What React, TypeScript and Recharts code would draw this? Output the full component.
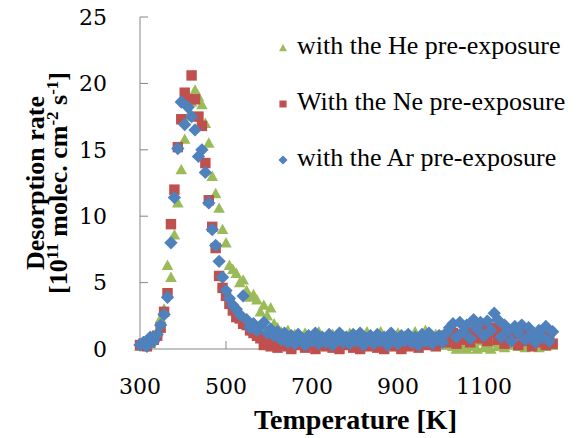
import { ScatterChart, Scatter, XAxis, YAxis, Legend, Label } from "recharts";

const FONT = "Liberation Serif";
const TICK_FONT = "DejaVu Serif";

// temperature of each sample [K], shared by all three runs
const temperatures = [
  300, 308, 316, 324, 332, 340, 348, 356, 364, 372, 380, 388, 396, 404, 412, 420, 428, 436, 444, 452,
  460, 468, 476, 484, 492, 500, 508, 516, 524, 532, 540, 548, 556, 564, 572, 580, 588, 596, 604, 612,
  620, 628, 636, 644, 652, 660, 668, 676, 684, 692, 700, 708, 716, 724, 732, 740, 748, 756, 764, 772,
  780, 788, 796, 804, 812, 820, 828, 836, 844, 852, 860, 868, 876, 884, 892, 900, 908, 916, 924, 932,
  940, 948, 956, 964, 972, 980, 988, 996, 1004, 1012, 1020, 1028, 1036, 1044, 1052, 1060, 1068, 1076, 1084, 1092,
  1100, 1108, 1116, 1124, 1132, 1140, 1148, 1156, 1164, 1172, 1180, 1188, 1196, 1204, 1212, 1220, 1228, 1236, 1244, 1252,
  1260,
];

const heRate = [
  0.2, 0.3, 0.5, 0.4, 0.8, 1.3, 2.3, 3.0, 6.3, 5.4, 8.6, 11.0, 13.5, 15.8, 17.5, 18.6, 19.5, 19.0, 18.4, 17.0,
  15.5, 13.0, 11.7, 10.6, 9.0, 8.0, 6.3, 6.0, 5.7, 5.0, 5.2, 4.4, 3.9, 4.1, 3.7, 2.8, 3.3, 2.5, 3.1, 1.9,
  1.6, 1.3, 1.0, 1.4, 0.8, 1.1, 0.5, 0.9, 1.2, 0.6, 0.4, 1.0, 1.3, 0.5, 0.8, 0.3, 1.1, 0.7, 0.4, 1.0,
  0.6, 1.2, 0.5, 0.3, 1.0, 0.6, 1.3, 0.8, 0.4, 0.9, 1.3, 0.5, 1.0, 0.3, 0.8, 1.2, 0.5, 1.0, 0.4, 0.9,
  1.3, 0.6, 1.0, 1.4, 0.7, 0.4, 1.1, 0.5, 0.9, 0.3, 0.6, 0.2, 0.0, 0.4, 0.1, 0.0, 0.5, 0.2, 0.0, 0.6,
  0.1, 0.4, 0.0, 0.5, 0.2, 0.7, 0.1, 0.9, 0.3, 0.6, 0.2, 0.8, 0.1, 0.5, 0.2, 0.7, 0.1, 0.5, 0.2, 0.6,
  0.3,
];

const neRate = [
  0.3, 0.4, 0.2, 0.5, 0.7, 1.0, 1.6, 2.8, 4.2, 9.4, 12.0, 15.2, 17.3, 19.3, 18.8, 20.6, 18.8, 17.5, 16.8, 14.0,
  11.2, 9.2, 7.6, 5.5, 4.6, 4.0, 3.4, 2.9, 2.4, 2.3, 1.9, 1.8, 1.4, 1.2, 1.0, 0.8, 0.3, 0.9, 0.2, 0.7,
  0.1, 0.4, 0.6, 0.2, 0.0, 0.5, 0.3, 0.7, 0.1, 0.4, 0.6, 0.0, 0.3, 0.5, 0.2, 0.6, 0.1, 0.4, 0.0, 0.5,
  0.3, 0.6, 0.1, 0.4, 0.0, 0.5, 0.2, 0.7, 0.3, 0.1, 0.5, 0.0, 0.4, 0.6, 0.2, 0.3, 0.0, 0.5, 0.2, 0.4,
  0.6, 0.1, 0.4, 0.7, 0.3, 0.8, 0.2, 0.6, 1.0, 0.5, 0.9, 1.2, 0.4, 1.1, 0.7, 1.3, 0.5, 0.9, 1.4, 0.8,
  1.5, 0.6, 1.2, 1.6, 0.7, 1.3, 0.4, 1.4, 0.8, 1.1, 0.3, 1.2, 0.6, 1.0, 0.2, 0.9, 0.5, 1.1, 0.3, 0.8,
  0.4,
];

const arRate = [
  0.3, 0.5, 0.2, 0.9, 0.6, 1.1, 1.8, 2.6, 3.9, 8.0, 11.4, 15.1, 18.6, 16.9, 18.2, 17.5, 16.5, 14.5, 15.0, 13.3,
  11.0, 9.0, 7.8, 6.6, 5.4, 4.4, 3.8, 3.3, 3.0, 2.6, 4.0, 2.2, 1.6, 1.9, 1.4, 1.7, 2.0, 1.2, 1.5, 1.0,
  1.3, 0.7, 1.2, 0.5, 1.0, 0.4, 1.1, 0.8, 0.3, 1.0, 0.6, 1.2, 0.4, 0.9, 0.5, 1.1, 0.3, 0.8, 1.2, 0.5,
  0.9, 0.4, 1.1, 0.6, 1.2, 0.3, 0.8, 1.0, 0.4, 1.1, 0.6, 0.9, 0.3, 1.2, 0.7, 0.4, 1.0, 0.6, 1.1, 0.5,
  0.9, 0.3, 1.1, 0.6, 1.2, 0.4, 0.8, 1.0, 0.5, 1.2, 1.6, 1.9, 0.9, 2.0, 1.3, 1.8, 0.8, 2.2, 1.5, 2.0,
  1.0, 2.1, 1.4, 2.7, 2.2, 0.9, 1.8, 1.4, 0.6, 1.7, 1.2, 1.8, 0.7, 1.6, 1.1, 0.5, 1.4, 0.9, 1.7, 0.6,
  1.3,
];

const xTicks = [300, 500, 700, 900, 1100];
const yTicks = [0, 5, 10, 15, 20, 25];

type Marker = "triangle" | "square" | "diamond";

const series: { name: string; color: string; marker: Marker; values: number[] }[] = [
  { name: "with the He pre-exposure", color: "#9BBB59", marker: "triangle", values: heRate },
  { name: "With the Ne pre-exposure", color: "#C0504D", marker: "square", values: neRate },
  { name: "with the Ar pre-exposure", color: "#4F81BD", marker: "diamond", values: arRate },
];

function markerPath(kind: Marker, cx: number, cy: number, r: number) {
  if (kind === "triangle") return `M${cx},${cy - r}L${cx + r},${cy + r * 0.8}L${cx - r},${cy + r * 0.8}Z`;
  if (kind === "square") return `M${cx - r * 0.9},${cy - r * 0.9}h${r * 1.8}v${r * 1.8}h${-r * 1.8}Z`;
  return `M${cx},${cy - r * 1.15}L${cx + r * 1.15},${cy}L${cx},${cy + r * 1.15}L${cx - r * 1.15},${cy}Z`;
}

function makeShape(kind: Marker, color: string) {
  return (props: any) => <path d={markerPath(kind, props.cx, props.cy, 5.8)} fill={color} />;
}

function LegendBox() {
  return (
    <div style={{ fontFamily: FONT, fontSize: 26, color: "#000" }}>
      {series.map((s) => (
        <div key={s.name} style={{ height: 56, display: "flex", alignItems: "center", whiteSpace: "nowrap" }}>
          <svg width={14} height={14}>
            <path d={markerPath(s.marker, 7, 7, 4)} fill={s.color} />
          </svg>
          <span style={{ marginLeft: 7, position: "relative", top: -2 }}>{s.name}</span>
        </div>
      ))}
    </div>
  );
}

function XTitle(props: any) {
  const vb = props.viewBox;
  return (
    <text x={vb.x + vb.width / 2 + 7} y={vb.y + 80} textAnchor="middle" fontFamily={FONT} fontSize={28} fontWeight="bold" fill="#000">
      Temperature [K]
    </text>
  );
}

function YTitle(props: any) {
  const vb = props.viewBox;
  const c = -(vb.y + vb.height / 2);
  return (
    <text transform="rotate(-90)" textAnchor="middle" fontFamily={FONT} fontSize={26} fontWeight="bold" fill="#000">
      <tspan x={c} y={44}>Desorption rate</tspan>
      <tspan x={c} y={67}>[10</tspan>
      <tspan dy={-9} fontSize={17}>11</tspan>
      <tspan dy={9}> molec. cm</tspan>
      <tspan dy={-9} fontSize={17}>-2</tspan>
      <tspan dy={9}> s</tspan>
      <tspan dy={-9} fontSize={17}>-1</tspan>
      <tspan dy={9}>]</tspan>
    </text>
  );
}

export default function App() {
  const tick = { fill: "#000", fontSize: 22, fontFamily: TICK_FONT };
  const grey = { stroke: "#868686" };
  return (
    <div style={{ position: "absolute", left: 0, top: 0, width: 583, height: 438, background: "#fff" }}>
      <ScatterChart width={583} height={438} margin={{ top: 17, right: 26, bottom: 29, left: 0 }}>
        <XAxis
          type="number"
          dataKey="t"
          domain={[300, 1270]}
          ticks={xTicks}
          height={60}
          axisLine={grey}
          tickLine={grey}
          tickSize={-8}
          tickMargin={37}
          tick={tick}
        >
          <Label content={XTitle} />
        </XAxis>
        <YAxis
          type="number"
          dataKey="v"
          domain={[0, 25]}
          ticks={yTicks}
          width={140}
          axisLine={grey}
          tickLine={grey}
          tickSize={-8}
          tickMargin={41}
          tick={tick}
        >
          <Label content={YTitle} />
        </YAxis>
        <Legend
          layout="vertical"
          align="center"
          verticalAlign="middle"
          content={<LegendBox />}
          wrapperStyle={{ left: 276, top: 20, width: 307, height: 170 }}
        />
        {series.map((s) => (
          <Scatter
            key={s.name}
            name={s.name}
            data={temperatures.map((t, i) => ({ t, v: s.values[i] }))}
            fill={s.color}
            shape={makeShape(s.marker, s.color)}
            isAnimationActive={false}
          />
        ))}
      </ScatterChart>
    </div>
  );
}
